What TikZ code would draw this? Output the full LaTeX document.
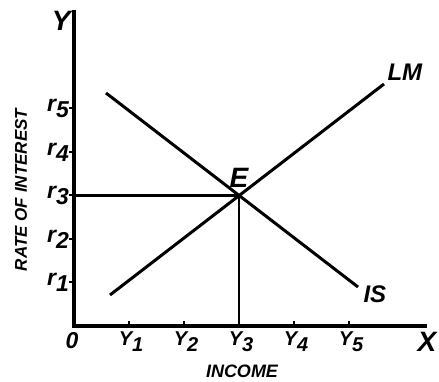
\documentclass[tikz,border=0pt]{standalone}
\usepackage{fontspec}
\setmainfont{Liberation Sans}
\usetikzlibrary{positioning}
\newcommand{\lowsub}[2]{#1\raisebox{-0.5ex}{#2}}

\begin{document}
\begin{tikzpicture}[
    x=1pt, y=1pt,
    axis/.style={line width=3.4pt, line join=miter},
    curve/.style={line width=3pt},
    guide/.style={line width=2.4pt},
    tickmark/.style={line width=2pt},
    axislabel/.style={font=\fontsize{28}{30}\selectfont\bfseries\itshape},
    ticklabel/.style={font=\fontsize{20}{22}\selectfont\bfseries\itshape, inner sep=1pt},
    curvelabel/.style={font=\fontsize{24}{26}\selectfont\bfseries\itshape},
    title/.style={font=\fontsize{18}{20}\selectfont\bfseries\itshape}
]

\useasboundingbox (-74,-56) rectangle (365,326);

% ---------- Axes ----------
\coordinate (O) at (0,0);
\coordinate (ytop) at (0,316);
\coordinate (xend) at (353,0);
\draw[axis] (ytop) -- (O) -- (xend);

\node[axislabel, anchor=north east] (ylab) at (0,318) {Y};
\node[axislabel, anchor=north] (xlab) at (353,-3) {X};
\node[axislabel, font=\fontsize{23}{24}\selectfont\bfseries\itshape, below=3pt of O, xshift=-2pt] (olab) {0};

% ---------- Ticks ----------
\foreach \i in {1,...,5} {
  \coordinate (yt\i) at (55*\i,0);
  \draw[tickmark] (yt\i) -- ++(0,5);
  \node[ticklabel, below=5pt of yt\i, xshift=2pt] (ylab\i) {\lowsub{Y}{\i}};
}
\foreach \i in {1,...,5} {
  \coordinate (rt\i) at (0,43.5*\i);
  \draw[tickmark] (rt\i) -- ++(-5,0);
  \node[ticklabel, font=\fontsize{23}{24}\selectfont\bfseries\itshape, left=4pt of rt\i] (rlab\i) {\lowsub{r}{\i}};
}

% ---------- Axis titles ----------
\node[title] (income) at (168,-45) {INCOME};
\node[title, font=\fontsize{17}{18}\selectfont\bfseries\itshape, rotate=90] (rate) at (-53,136) {RATE OF INTEREST};

% ---------- Curves ----------
\coordinate (E) at (165,130.5);
\coordinate (is1) at (32,233);
\coordinate (is2) at (284,39);
\coordinate (lm1) at (36,31);
\coordinate (lm2) at (310,242);

\draw[curve] (is1) -- (is2);
\draw[curve] (lm1) -- (lm2);
\draw[guide] (rt3) -- (E) -- (E |- O);

\node[curvelabel, right=2pt of is2, yshift=-7pt] (islab) {IS};
\node[curvelabel, above right=0pt of lm2] (lmlab) {LM};
\node[axislabel, above=4pt of E] (elab) {E};

\end{tikzpicture}
\end{document}
